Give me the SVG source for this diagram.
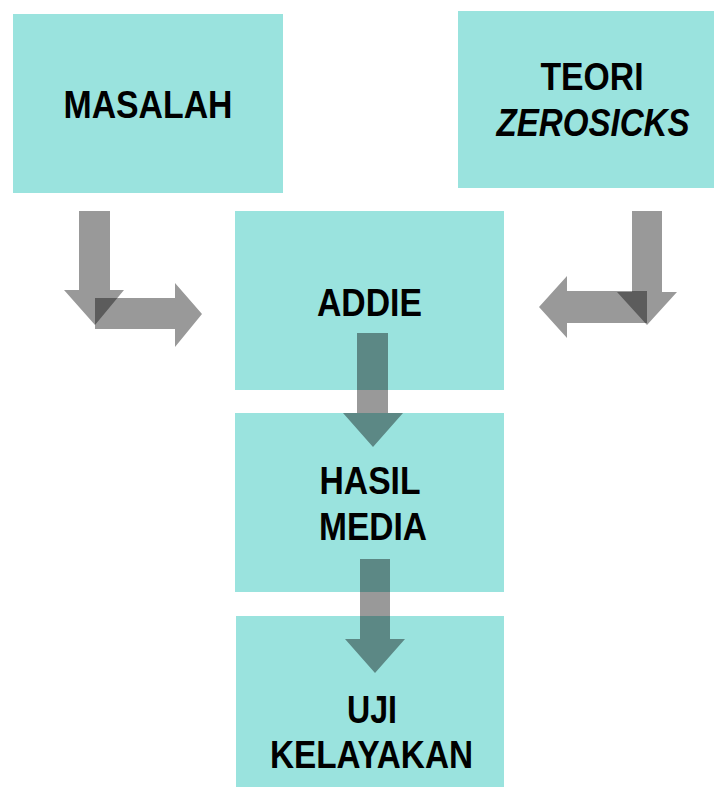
<svg xmlns="http://www.w3.org/2000/svg" width="716" height="787" viewBox="0 0 716 787">
<style>
.box{fill:#9ae3de}
.t{font-family:"Liberation Sans",Arial,sans-serif;font-weight:bold;font-size:39px;fill:#000;text-anchor:middle}
.i{font-style:italic}
.arr{fill:#000;fill-opacity:0.4}
</style>
<rect width="716" height="787" fill="#fff"/>
<g id="masalah">
<rect class="box" x="13" y="14" width="270" height="179"/>
<text class="t" x="148" y="118" textLength="169" lengthAdjust="spacingAndGlyphs">MASALAH</text>
</g>
<g id="teori">
<rect class="box" x="458" y="11" width="256" height="177"/>
<text class="t" x="592" y="90" textLength="103" lengthAdjust="spacingAndGlyphs">TEORI</text>
<text class="t i" x="593" y="136" textLength="193" lengthAdjust="spacingAndGlyphs">ZEROSICKS</text>
</g>
<g id="addie">
<rect class="box" x="235" y="211" width="269" height="179"/>
<text class="t" x="369.5" y="316" textLength="105" lengthAdjust="spacingAndGlyphs">ADDIE</text>
</g>
<g id="hasil">
<rect class="box" x="235" y="413" width="269" height="179"/>
<text class="t" x="370" y="494" textLength="101" lengthAdjust="spacingAndGlyphs">HASIL</text>
<text class="t" x="373" y="540" textLength="108" lengthAdjust="spacingAndGlyphs">MEDIA</text>
</g>
<g id="uji">
<rect class="box" x="236" y="616" width="268" height="171"/>
<text class="t" x="372" y="723" textLength="50" lengthAdjust="spacingAndGlyphs">UJI</text>
<text class="t" x="371.5" y="768" textLength="203" lengthAdjust="spacingAndGlyphs">KELAYAKAN</text>
</g>
<g id="connectors">
<polygon class="arr" points="79,211 110,211 110,290 124,290 95,325 64,290 79,290"/>
<polygon class="arr" points="95,298 175,298 175,283 202,314 175,347 175,329 95,329"/>
<polygon class="arr" points="632,211 662,211 662,292 677,292 647,325 617,292 632,292"/>
<polygon class="arr" points="647,291 567,291 567,276 539,307 567,338 567,323 647,323"/>
<polygon class="arr" points="357,333 388,333 388,413 403,413 373,447 343,413 357,413"/>
<polygon class="arr" points="360,559 390,559 390,639 405,639 375,673 345,639 360,639"/>
</g>
</svg>
